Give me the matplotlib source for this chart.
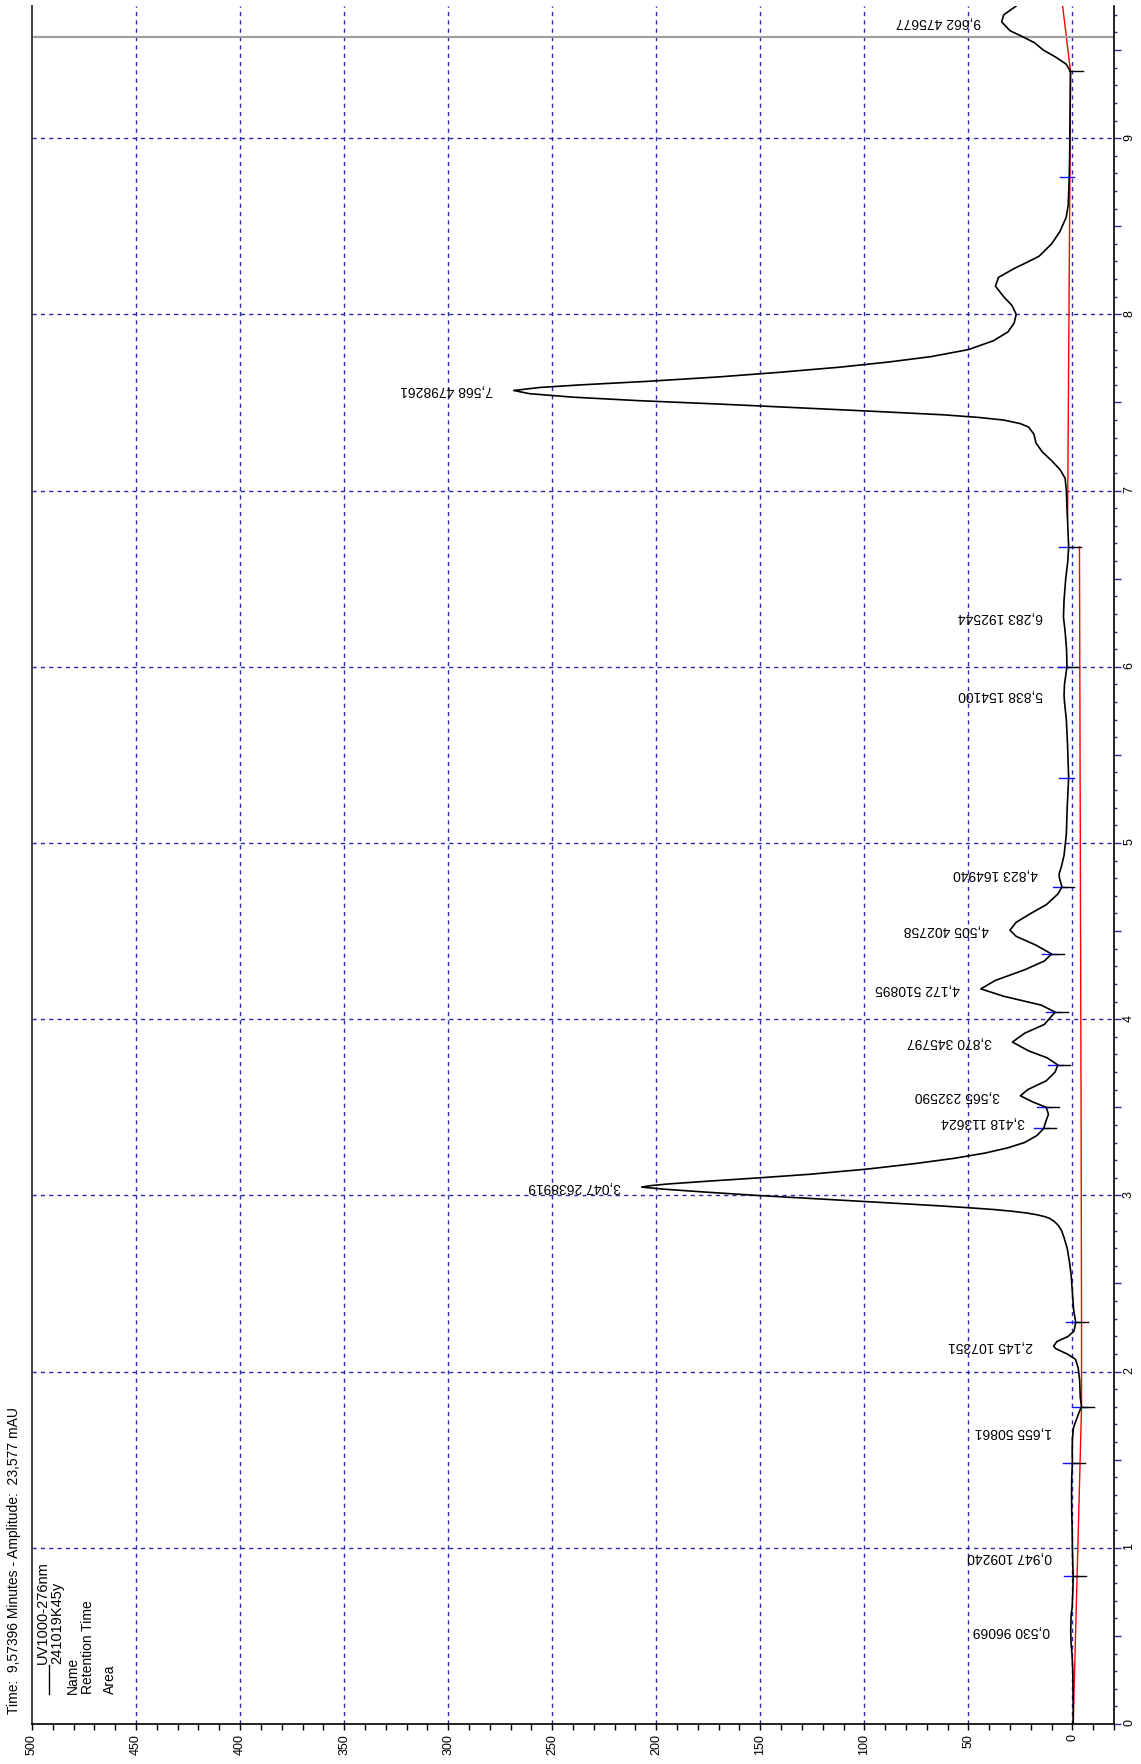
import numpy as np
import matplotlib.pyplot as plt
from matplotlib.ticker import MultipleLocator, FuncFormatter

plt.rcParams['font.family'] = ['Liberation Sans', 'DejaVu Sans']

# Chromatogram trace (time in min, amplitude in mAU)
time = [0.00, 0.10, 0.20, 0.30, 0.40, 0.45, 0.53, 0.62, 0.66, 0.75, 0.84, 0.90,
        1.00, 1.10, 1.20, 1.30, 1.40, 1.48, 1.55, 1.62, 1.68, 1.73, 1.78, 1.80,
        1.85, 1.95, 2.02, 2.07, 2.10, 2.13, 2.145, 2.17, 2.20, 2.23, 2.28, 2.35,
        2.45, 2.55, 2.63, 2.70, 2.76, 2.80, 2.83, 2.85, 2.87, 2.88, 2.89, 2.90,
        2.91, 2.92, 2.93, 2.94, 2.96, 2.98, 3.00, 3.02, 3.035, 3.047, 3.055, 3.065,
        3.08, 3.10, 3.12, 3.15, 3.18, 3.21, 3.24, 3.27, 3.30, 3.34, 3.38, 3.418,
        3.46, 3.50, 3.53, 3.565, 3.60, 3.65, 3.70, 3.74, 3.78, 3.82, 3.87, 3.92,
        3.97, 4.04, 4.08, 4.13, 4.172, 4.22, 4.28, 4.33, 4.37, 4.42, 4.47, 4.505,
        4.55, 4.60, 4.65, 4.71, 4.75, 4.80, 4.823, 4.87, 4.93, 5.05, 5.20, 5.37,
        5.55, 5.70, 5.80, 5.838, 5.90, 6.00, 6.10, 6.20, 6.283, 6.38, 6.50, 6.60,
        6.68, 6.80, 6.90, 7.00, 7.07, 7.12, 7.17, 7.22, 7.27, 7.32, 7.36, 7.38,
        7.40, 7.415, 7.43, 7.45, 7.47, 7.49, 7.51, 7.53, 7.55, 7.568, 7.585, 7.60,
        7.62, 7.645, 7.67, 7.70, 7.73, 7.76, 7.80, 7.85, 7.90, 7.95, 8.00, 8.05,
        8.10, 8.16, 8.21, 8.26, 8.30, 8.33, 8.40, 8.47, 8.55, 8.62, 8.78, 8.90,
        9.00, 9.15, 9.30, 9.38, 9.42, 9.46, 9.50, 9.54, 9.574, 9.61, 9.66, 9.70,
        9.75]
amp = [-0.4, -0.4, -0.3, -0.2, 0.2, 0.6, 0.8, 0.6, 0.1, -0.2, -0.4, -0.2,
       0.0, 0.1, 0.3, 0.4, 0.3, 0.0, 0.1, 0.0, -0.5, -2.0, -3.6, -4.4,
       -3.8, -3.5, -2.8, -1.5, 2.5, 8.0, 9.0, 7.5, 2.0, -0.8, -1.6, -0.6,
       0.0, 0.6, 1.5, 2.5, 4.0, 5.2, 6.8, 8.5, 11.0, 13.5, 17.0, 22.0,
       29.0, 38.0, 50.0, 63.0, 92.0, 122.0, 152.0, 178.0, 196.0, 207.0, 203.0, 194.0,
       176.0, 150.0, 126.0, 98.0, 76.0, 57.0, 42.0, 31.0, 23.0, 17.0, 13.8, 12.8,
       11.5, 12.6, 19.0, 25.0, 21.5, 12.6, 8.3, 7.0, 12.0, 21.0, 28.8, 23.0,
       13.5, 8.3, 15.0, 33.0, 44.0, 37.0, 23.0, 13.5, 10.0, 17.5, 27.0, 30.0,
       27.0, 20.0, 12.5, 7.0, 5.0, 6.2, 6.4, 5.2, 4.0, 2.9, 2.5, 1.8,
       2.3, 2.9, 3.8, 4.0, 3.8, 2.6, 2.8, 3.5, 4.3, 4.0, 3.2, 2.2,
       1.8, 2.2, 2.6, 2.9, 3.5, 6.0, 10.0, 14.5, 17.5, 18.5, 21.0, 25.0,
       33.0, 45.0, 62.0, 96.0, 132.0, 168.0, 208.0, 240.0, 261.0, 268.5, 256.0, 236.0,
       204.0, 170.0, 142.0, 112.0, 88.0, 68.0, 50.0, 38.0, 31.0, 28.0, 27.0, 29.0,
       33.0, 37.0, 35.5, 28.0, 21.0, 16.0, 10.0, 6.0, 3.0, 2.0, 1.5, 1.3,
       1.2, 1.1, 1.0, 0.9, 3.0, 8.0, 14.0, 18.0, 23.6, 30.0, 34.0, 33.0,
       27.0]

# Integration baselines (red)
base1_time = [0.0, 1.80, 2.28, 3.38, 6.68]
base1_amp = [-0.4, -4.4, -4.4, -4.2, -3.4]
base2_time = [6.85, 8.78, 9.38, 9.75]
base2_amp = [2.3, 1.2, 0.9, 4.7]

# Peak table
peak_rt = [0.530, 0.947, 1.655, 2.145, 3.047, 3.418, 3.565, 3.870, 4.172,
           4.505, 4.823, 5.838, 6.283, 7.568, 9.662]
peak_area = [96069, 109240, 50861, 107351, 2638919, 113624, 232590, 345797,
             510895, 402758, 164940, 154100, 192544, 4798261, 475677]

# Peak start (blue) and end (black) marks
start_marks = [0.84, 1.48, 1.80, 2.28, 3.38, 3.50, 3.74, 4.04, 4.37, 4.75,
               5.37, 6.00, 6.68, 8.78]
end_marks = [0.0, 0.84, 1.48, 1.80, 2.28, 3.38, 3.50, 3.74, 4.04, 4.37, 4.75,
             6.00, 6.68, 9.38]

cursor_time = 9.57396
cursor_amp = 23.577
detector = "UV1000-276nm"
sample = "241019K45y"
legend_rows = ["Name", "Retention Time", "Area"]

W, H = 1141, 1764
fig = plt.figure(figsize=(W / 100, H / 100), dpi=100)
ax = fig.add_axes([32 / W, 40 / H, (1114 - 32) / W, (1758 - 40) / H])

grid_col = '#2a2aa8'
ax.set_xlim(500, -20)
ax.set_ylim(0, 9.75)

# grid
for a in range(0, 500, 50):
    ax.axvline(a, color=grid_col, lw=1.0, ls=(0, (3, 3)), zorder=1)
for t in range(1, 10):
    ax.axhline(t, color=grid_col, lw=1.0, ls=(0, (3, 3)), zorder=1)

# baselines and trace
ax.plot(base1_amp, base1_time, color='red', lw=1.0, zorder=2)
ax.plot(base2_amp, base2_time, color='red', lw=1.0, zorder=2)
ax.plot(amp, time, color='black', lw=1.2, zorder=3)

# integration marks
for t in start_marks:
    a = np.interp(t, time, amp)
    ax.plot([a + 4.5, a - 2.5], [t, t], color='#1010ff', lw=1.0, zorder=4)
for t in end_marks:
    a = np.interp(t, time, amp)
    ax.plot([a + 0.5, a - 6.0], [t, t], color='black', lw=1.0, zorder=4)

# peak labels
for rt, area in zip(peak_rt, peak_area):
    a = np.interp(rt, time, amp)
    label = f"{rt:.3f}".replace('.', ',') + " " + str(area)
    ax.text(a + 10, rt, label, rotation=180, ha='right', va='center',
            fontsize=10, zorder=5)

# cursor
ax.axhline(cursor_time, color='#a0a0a0', lw=1.6, zorder=2)

# axes styling
ax.spines['top'].set_visible(False)
ax.spines['left'].set_color('#404040')
ax.spines['left'].set_linewidth(1.4)
ax.spines['bottom'].set_linewidth(1.2)
ax.spines['right'].set_linewidth(1.2)

ax.xaxis.set_major_locator(MultipleLocator(50))
ax.xaxis.set_minor_locator(MultipleLocator(10))
ax.xaxis.set_major_formatter(FuncFormatter(lambda v, p: f"{v:.0f}"))
ax.tick_params(axis='x', which='both', direction='out', length=4.5, width=1,
               labelrotation=90, labelsize=9, pad=3)

ax.yaxis.tick_right()
ax.yaxis.set_major_locator(MultipleLocator(0.5))
ax.yaxis.set_minor_locator(MultipleLocator(0.1))
ax.yaxis.set_major_formatter(
    FuncFormatter(lambda v, p: f"{v:.0f}" if abs(v - round(v)) < 1e-6 else ""))
ax.tick_params(axis='y', which='major', direction='out', length=5, width=1,
               color='#2a2a90', labelrotation=90, labelsize=9, pad=1.5)
ax.tick_params(axis='y', which='minor', direction='out', length=2.5, width=1,
               color='#2a2a90')


def fpos(x, y):
    return x / W, 1 - y / H


fig.text(*fpos(14, 1714),
         f"Time:  {cursor_time:.5f}".replace('.', ',') + " Minutes - Amplitude:  "
         + f"{cursor_amp:.3f}".replace('.', ',') + " mAU",
         rotation=90, ha='center', va='bottom', fontsize=10)

# legend
fig.add_artist(plt.Line2D([49 / W, 49 / W], [1 - 1694 / H, 1 - 1665 / H],
                          color='black', lw=1.0))
fig.text(*fpos(43, 1664), detector, rotation=90, ha='center', va='bottom', fontsize=10.5)
fig.text(*fpos(57, 1664), sample, rotation=90, ha='center', va='bottom', fontsize=10.5)
for i, row in enumerate(legend_rows):
    fig.text(*fpos([73, 88, 110][i], 1694), row, rotation=90, ha='center',
             va='bottom', fontsize=10)

fig.savefig("out.png", dpi=100)
